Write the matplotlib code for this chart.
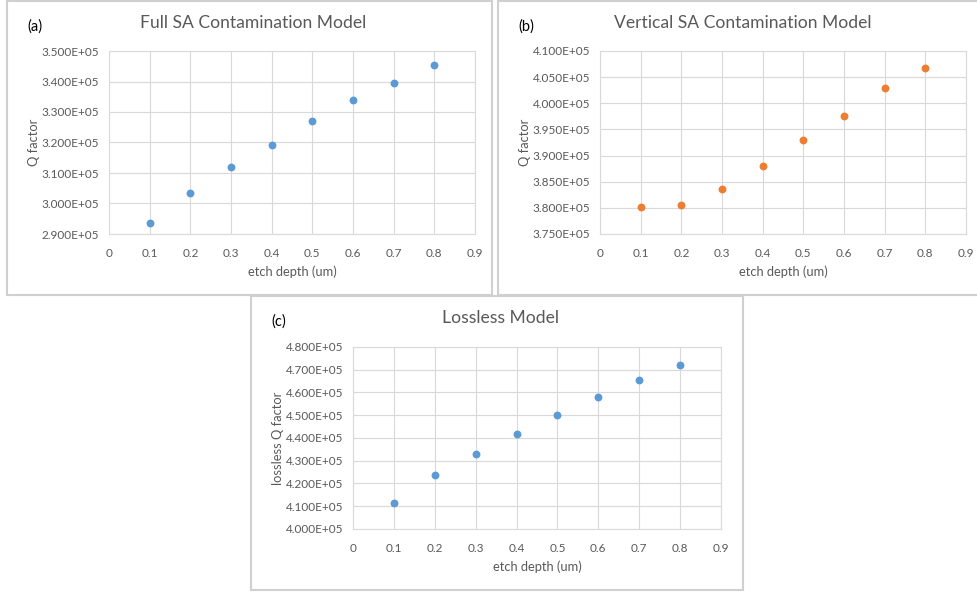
import matplotlib
matplotlib.use("Agg")
import matplotlib.pyplot as plt
from matplotlib.patches import Rectangle
from matplotlib.ticker import FuncFormatter

plt.rcParams['font.family'] = ['Lato', 'DejaVu Sans']

# etch depth (um) and Q factors for each model
depth = [0.1, 0.2, 0.3, 0.4, 0.5, 0.6, 0.7, 0.8]
q_full = [2.935e5, 3.035e5, 3.121e5, 3.193e5, 3.270e5, 3.339e5, 3.395e5, 3.455e5]
q_vert = [3.801e5, 3.806e5, 3.836e5, 3.880e5, 3.930e5, 3.976e5, 4.030e5, 4.068e5]
q_lossless = [4.116e5, 4.237e5, 4.330e5, 4.419e5, 4.502e5, 4.579e5, 4.656e5, 4.721e5]

x_ticks = [0, 0.1, 0.2, 0.3, 0.4, 0.5, 0.6, 0.7, 0.8, 0.9]
x_ticklabels = ["0", "0.1", "0.2", "0.3", "0.4", "0.5", "0.6", "0.7", "0.8", "0.9"]

W, H = 978, 592
TXT = '#595959'
GRID = '#d9d9d9'
BLUE = '#5b9bd5'
ORANGE = '#ed7d31'

fig = plt.figure(figsize=(W / 100, H / 100), dpi=100)
fig.patch.set_facecolor('white')


def px_box(x0, y0, x1, y1):
    # pixel box (top-left origin) -> figure fraction rect
    return [x0 / W, 1 - y1 / H, (x1 - x0) / W, (y1 - y0) / H]


def frame(x0, y0, x1, y1):
    r = px_box(x0, y0, x1, y1)
    fig.patches.append(Rectangle((r[0], r[1]), r[2], r[3], transform=fig.transFigure,
                                 fill=False, edgecolor='#d0d0d0', linewidth=1.5))


def panel(box, frame_box, y, color, ylim, ystep, title, tag, ylabel):
    fx0, fy0, fx1, fy1 = frame_box
    frame(fx0, fy0, fx1, fy1)
    ax = fig.add_axes(px_box(*box))
    ax.scatter(depth, y, s=32, color=color, zorder=3, linewidths=0)
    ax.set_xlim(0, 0.9)
    ax.set_ylim(*ylim)
    ax.set_xticks(x_ticks)
    ax.set_xticklabels(x_ticklabels)
    n = round((ylim[1] - ylim[0]) / ystep)
    ax.set_yticks([ylim[0] + i * ystep for i in range(n + 1)])
    ax.yaxis.set_major_formatter(FuncFormatter(lambda v, p: f"{v:.3E}"))
    ax.grid(True, color=GRID, linewidth=0.8)
    ax.set_axisbelow(True)
    for s in ax.spines.values():
        s.set_color(GRID)
        s.set_linewidth(0.8)
    ax.tick_params(length=0, labelsize=8.5, colors=TXT)
    ax.tick_params(axis='y', pad=7)
    ax.tick_params(axis='x', pad=10)
    ax.set_xlabel("etch depth (um)", fontsize=9.3, color=TXT, labelpad=5)
    ax.set_ylabel(ylabel, fontsize=9.3, color=TXT, labelpad=1)
    cx = (fx0 + fx1) / 2 + 4
    fig.text(cx / W, 1 - (fy0 + 22) / H, title, fontsize=12.6, color=TXT,
             ha='center', va='center')
    fig.text((fx0 + 20) / W, 1 - (fy0 + 26) / H, tag, fontsize=10.5, color='black',
             ha='left', va='center')
    return ax


panel((109, 51, 475, 234), (7, 1, 492, 295), q_full, BLUE, (2.9e5, 3.5e5), 0.1e5,
      "Full SA Contamination Model", "(a)", "Q factor")
panel((600, 51, 966, 234), (498, 1, 980, 295), q_vert, ORANGE, (3.75e5, 4.1e5), 0.05e5,
      "Vertical SA Contamination Model", "(b)", "Q factor")
panel((353, 347, 721, 529), (251, 296, 743, 590), q_lossless, BLUE, (4.0e5, 4.8e5), 0.1e5,
      "Lossless Model", "(c)", "lossless Q factor")

fig.savefig("out.png", dpi=100)
